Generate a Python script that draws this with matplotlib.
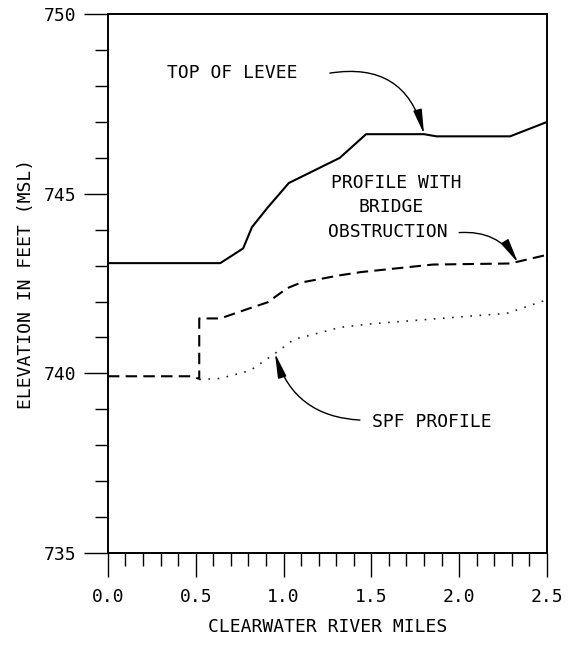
import matplotlib.pyplot as plt
from matplotlib.ticker import MultipleLocator

# Top of levee (solid line)
levee_miles = [0.0, 0.64, 0.77, 0.82, 0.91, 1.03, 1.32, 1.47, 1.80, 1.87, 2.29, 2.50]
levee_elev = [743.07, 743.07, 743.48, 744.07, 744.62, 745.30, 746.00, 746.66, 746.66, 746.60, 746.60, 747.00]

# Profile with bridge obstruction (dashed)
bridge_miles = [0.0, 0.47, 0.52, 0.52, 0.64, 0.80, 0.91, 1.02, 1.10, 1.32, 1.44, 1.85, 2.29, 2.50]
bridge_elev = [739.92, 739.92, 739.85, 741.53, 741.53, 741.80, 741.98, 742.37, 742.53, 742.73, 742.82, 743.03, 743.06, 743.30]

# SPF profile (dotted)
spf_miles = [0.52, 0.64, 0.81, 0.95, 1.06, 1.15, 1.32, 1.50, 1.89, 2.27, 2.50]
spf_elev = [739.83, 739.86, 740.08, 740.55, 740.95, 741.06, 741.28, 741.38, 741.53, 741.67, 742.05]

y_ticks = [735, 740, 745, 750]
x_ticks = [0.0, 0.5, 1.0, 1.5, 2.0, 2.5]

fuente = "DejaVu Sans Mono"
plt.rcParams["font.family"] = fuente

fig = plt.figure(figsize=(5.68, 6.46), dpi=100)
ax = fig.add_axes([0.190, 0.144, 0.773, 0.834])

ax.plot(levee_miles, levee_elev, color="black", lw=1.5)
ax.plot(bridge_miles, bridge_elev, color="black", lw=1.5, dashes=(5.5, 3.0))
ax.plot(spf_miles, spf_elev, color="#222222", lw=1.2, dashes=(1, 4.5))

ax.set_xlim(0, 2.5)
ax.set_ylim(735, 750)
ax.set_xticks(x_ticks)
ax.set_xticklabels([f"{v:.1f}" for v in x_ticks])
ax.set_yticks(y_ticks)
ax.xaxis.set_minor_locator(MultipleLocator(0.1))
ax.yaxis.set_minor_locator(MultipleLocator(1))

ax.tick_params(which="major", direction="out", length=17, width=1.0, labelsize=13)
ax.tick_params(which="minor", direction="out", length=9.5, width=1.0)
ax.tick_params(axis="x", which="major", pad=8)
ax.tick_params(axis="y", which="major", pad=6)
for s in ax.spines.values():
    s.set_linewidth(1.4)

ax.set_xlabel("CLEARWATER RIVER MILES", fontsize=13, labelpad=9)
ax.set_ylabel("ELEVATION IN FEET (MSL)", fontsize=13, labelpad=6)

# Anotaciones
flecha = dict(arrowstyle="-|>,head_length=1.25,head_width=0.22",
              mutation_scale=12, color="black", lw=1.0, shrinkA=0, shrinkB=0)

ax.text(0.336, 748.36, "TOP OF LEVEE", fontsize=13, ha="left", va="center")
ax.annotate("", xy=(1.80, 746.66), xytext=(1.264, 748.36),
            arrowprops=dict(flecha, connectionstyle="arc3,rad=-0.45"))

ax.text(1.64, 745.30, "PROFILE WITH", fontsize=13, ha="center", va="center")
ax.text(1.61, 744.63, "BRIDGE", fontsize=13, ha="center", va="center")
ax.text(1.595, 743.93, "OBSTRUCTION", fontsize=13, ha="center", va="center")
ax.annotate("", xy=(2.335, 743.08), xytext=(2.0, 743.92),
            arrowprops=dict(flecha, connectionstyle="arc3,rad=-0.3"))

ax.text(1.503, 738.64, "SPF PROFILE", fontsize=13, ha="left", va="center")
ax.annotate("", xy=(0.951, 740.56), xytext=(1.435, 738.70),
            arrowprops=dict(flecha, connectionstyle="arc3,rad=-0.35"))

fig.savefig("out.png", dpi=100)
